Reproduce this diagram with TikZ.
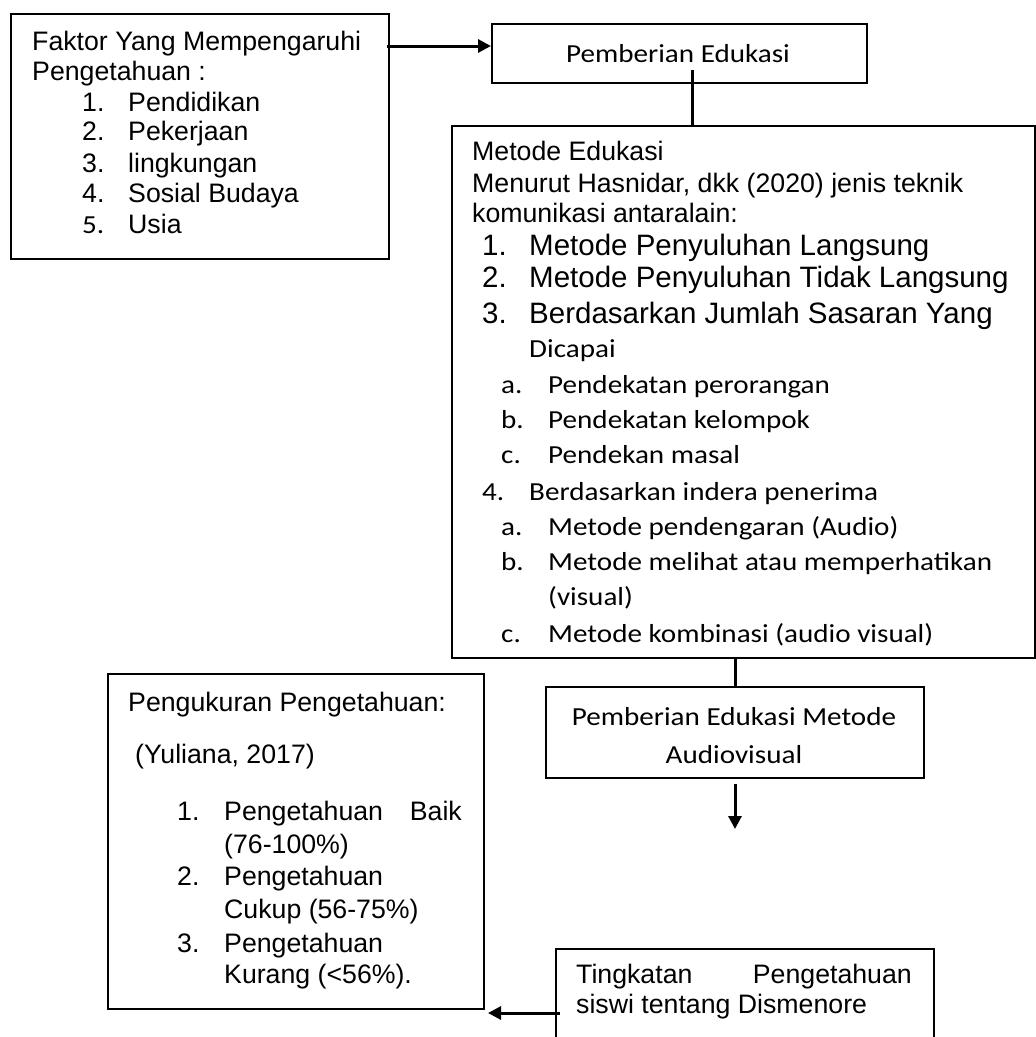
\documentclass[tikz,border=0pt]{standalone}
\usepackage{fontspec}
\setmainfont{Liberation Sans}
\newfontfamily\calfont[FakeStretch=1.12]{Carlito}
\usetikzlibrary{arrows.meta,calc}
\newcommand\fA{\fontsize{26.7}{31}\selectfont}
\newcommand\fB{\fontsize{29.5}{34}\selectfont}
\newcommand\fC{\calfont\fontsize{26}{31}\selectfont}
\begin{document}
\begin{tikzpicture}[x=1pt,y=-1pt,
  box/.style={draw, line width=2pt, inner sep=0pt, anchor=north west},
  txt/.style={anchor=base west, inner sep=0pt, font=\fA},
  txtr/.style={anchor=base east, inner sep=0pt, font=\fA},
  txtc/.style={anchor=base, inner sep=0pt, font=\fC},
  big/.style={txt, font=\fB},
  cal/.style={txt, font=\fC},
  conn/.style={line width=3pt},
  arr/.style={line width=3pt, -{Triangle[length=13pt,width=13pt]}}]
\useasboundingbox (0,0) rectangle (1036,1037);
\clip (0,0) rectangle (1036,1037);

% boxes
\node[box, minimum width=378pt, minimum height=245pt] (fk) at (10,13) {};
\node[box, minimum width=375pt, minimum height=59pt] (pe) at (491,23) {};
\node[box, minimum width=583pt, minimum height=532pt] (me) at (451,125) {};
\node[box, minimum width=378pt, minimum height=91pt] (av) at (545,686) {};
\node[box, minimum width=376pt, minimum height=335pt] (pk) at (107,673) {};
\node[box, minimum width=378pt, minimum height=130pt] (tk) at (555,948) {};

% Faktor box
\node[txt] (f1) at (32,50) {Faktor Yang Mempengaruhi};
\node[txt] (f2) at (32,80) {Pengetahuan :};
\node[txt] (f3n) at (82,111) {1.};  \node[txt] (f3) at (128,111) {Pendidikan};
\node[txt] (f4n) at (82,140) {2.};  \node[txt] (f4) at (128,140) {Pekerjaan};
\node[txt] (f5n) at (82,172) {3.};  \node[txt] (f5) at (128,172) {lingkungan};
\node[txt] (f6n) at (82,202) {4.};  \node[txt] (f6) at (128,202) {Sosial Budaya};
\node[cal] (f7n) at (82,233) {5.};  \node[txt] (f7) at (128,233) {Usia};

% Pemberian Edukasi
\node[txtc] (p1) at (678,62) {Pemberian Edukasi};

% Metode box
\node[txt] (m1) at (472,160) {Metode Edukasi};
\node[txt] (m2) at (472,192) {Menurut Hasnidar, dkk (2020) jenis teknik};
\node[txt] (m3) at (472,222) {komunikasi antaralain:};
\node[big] (m4n) at (482,255) {1.}; \node[big] (m4) at (529,255) {Metode Penyuluhan Langsung};
\node[big] (m5n) at (482,287) {2.}; \node[big] (m5) at (529,287) {Metode Penyuluhan Tidak Langsung};
\node[big] (m6n) at (482,323) {3.}; \node[big] (m6) at (529,323) {Berdasarkan Jumlah Sasaran Yang};
\node[cal] (m7) at (529,357) {Dicapai};
\node[cal] (m8n) at (501,393) {a.}; \node[cal] (m8) at (548,393) {Pendekatan perorangan};
\node[cal] (m9n) at (501,428) {b.}; \node[cal] (m9) at (548,428) {Pendekatan kelompok};
\node[cal] (m10n) at (501,463) {c.}; \node[cal] (m10) at (548,463) {Pendekan masal};
\node[cal] (m11n) at (482,500) {4.}; \node[cal] (m11) at (529,500) {Berdasarkan indera penerima};
\node[cal] (m12n) at (501,535) {a.}; \node[cal] (m12) at (548,535) {Metode pendengaran (Audio)};
\node[cal] (m13n) at (501,570) {b.}; \node[cal] (m13) at (548,570) {Metode melihat atau memperhatikan};
\node[cal] (m14) at (548,605) {(visual)};
\node[cal] (m15n) at (501,642) {c.}; \node[cal] (m15) at (548,642) {Metode kombinasi (audio visual)};

% Audiovisual box
\node[txtc] (a1) at (734,725) {Pemberian Edukasi Metode};
\node[txtc] (a2) at (734,763) {Audiovisual};

% Pengukuran box
\node[txt] (k1) at (128,711) {Pengukuran Pengetahuan:};
\node[txt] (k2) at (135,763) {(Yuliana, 2017)};
\node[txt] (k3n) at (177,820) {1.}; \node[txt] (k3) at (224,820) {Pengetahuan};
\node[txtr] (k3b) at (462,820) {Baik};
\node[txt] (k4) at (224,853) {(76-100\%)};
\node[txt] (k5n) at (177,885) {2.}; \node[txt] (k5) at (224,885) {Pengetahuan};
\node[txt] (k6) at (224,918) {Cukup (56-75\%)};
\node[txt] (k7n) at (177,952) {3.}; \node[txt] (k7) at (224,952) {Pengetahuan};
\node[txt] (k8) at (224,983) {Kurang (<56\%).};

% Tingkatan box
\node[txt] (t1) at (576,983) {Tingkatan};
\node[txtr] (t1b) at (912,983) {Pengetahuan};
\node[txt] (t2) at (576,1013) {siswi tentang Dismenore};

% connectors
\coordinate (a0) at ($(fk.north east)+(-3,33)$);
\draw[arr] (a0) -- (a0 -| pe.west);
\coordinate (b0) at ($(pe.south)+(12.5,-14)$);
\draw[conn] (b0) -- (b0 |- me.north);
\draw[conn] (av.north |- me.south) -- (av.north);
\coordinate (c0) at ($(av.south)+(0,5)$);
\coordinate (c1) at ($(av.south)+(0,50)$);
\draw[arr] (c0) -- (c1);
\coordinate (d0) at ($(tk.north west)+(5,65)$);
\coordinate (d1) at ($(pk.south east)+(3,0)$);
\draw[arr] (d0) -- (d0 -| d1);
\end{tikzpicture}
\end{document}
